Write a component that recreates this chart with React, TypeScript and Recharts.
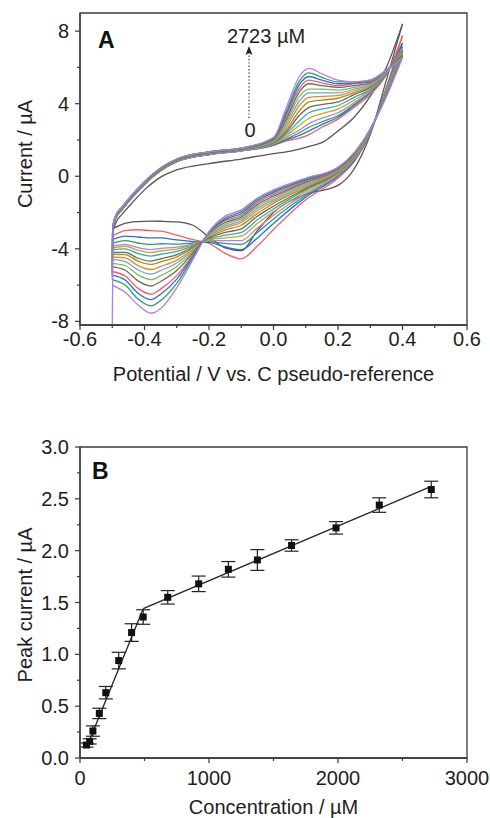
import React from "react";
import {
  LineChart,
  Line,
  XAxis,
  YAxis,
  ReferenceArea,
  ComposedChart,
  Scatter,
  ErrorBar,
  Label,
} from "recharts";

const FONT = "'Liberation Sans', Arial, Helvetica, sans-serif";
const INK = "#1e1e1e";
const AXIS = "#3a3a3a";

// ---- panel A: CV sweep, -0.5 V -> 0.4 V -> -0.5 V (V vs. C)
const potential = [
  -0.5, -0.497, -0.49, -0.47, -0.44, -0.4, -0.35, -0.3, -0.2, -0.1, 0, 0.04, 0.08, 0.11, 0.15, 0.2, 0.25, 0.3, 0.35, 0.4,
  0.35, 0.3, 0.25, 0.2, 0.1, 0, -0.05, -0.1, -0.15, -0.2, -0.25, -0.3, -0.35, -0.38, -0.42, -0.46, -0.5,
];
const TURN = 19; // index of 0.4 V

// current (uA) per concentration step, 0 .. 2723 uM
const cv0 = [-3.2, -3.0, -2.6, -2.1, -1.5, -0.75, -0.05, 0.35, 0.7, 0.95, 1.25, 1.35, 1.5, 1.65, 1.85, 2.5, 3.25, 4.4, 6.0, 8.4,
  5.3, 2.3, 0.4, -0.5, -1.0, -2.0, -3.0, -4.1, -3.95, -3.35, -2.7, -2.52, -2.48, -2.47, -2.5, -2.6, -2.9];
const cv1 = [-3.3, -2.8, -2.35, -1.85, -1.2, -0.45, 0.3, 0.8, 1.2, 1.4, 1.7, 1.95, 2.1, 2.3, 2.7, 3.15, 3.8, 4.5, 5.6, 7.75,
  4.9, 2.4, 0.8, -0.1, -1.3, -2.94, -3.85, -4.55, -4.25, -3.7, -3.5, -3.25, -3.02, -3.0, -2.95, -3.0, -3.3];
const cv2 = [-3.5, -2.8, -2.35, -1.85, -1.2, -0.45, 0.3, 0.8, 1.2, 1.4, 1.72, 2.0, 2.25, 2.5, 2.85, 3.25, 3.9, 4.6, 5.65, 7.35,
  4.85, 2.42, 0.85, 0.0, -1.15, -2.6, -3.4, -4.05, -3.9, -3.65, -3.6, -3.51, -3.4, -3.4, -3.35, -3.3, -3.5];
const cv3 = [-3.7, -2.8, -2.35, -1.85, -1.2, -0.45, 0.3, 0.8, 1.2, 1.4, 1.75, 2.05, 2.4, 2.7, 3.0, 3.35, 3.95, 4.65, 5.65, 7.15,
  4.8, 2.44, 0.9, 0.05, -1.05, -2.35, -3.1, -3.75, -3.7, -3.6, -3.68, -3.74, -3.72, -3.76, -3.68, -3.55, -3.7];
const cv4 = [-3.85, -2.8, -2.35, -1.85, -1.2, -0.45, 0.3, 0.8, 1.2, 1.4, 1.78, 2.15, 2.55, 2.9, 3.2, 3.5, 4.05, 4.7, 5.7, 7.05,
  4.75, 2.46, 0.95, 0.1, -0.95, -2.15, -2.85, -3.55, -3.55, -3.55, -3.75, -3.91, -3.98, -4.04, -3.94, -3.75, -3.85];
const cv5 = [-3.95, -2.75, -2.3, -1.8, -1.15, -0.4, 0.35, 0.85, 1.25, 1.45, 1.8, 2.25, 2.8, 3.2, 3.45, 3.7, 4.2, 4.75, 5.7, 7.0,
  4.7, 2.48, 1.0, 0.15, -0.85, -1.95, -2.6, -3.3, -3.4, -3.5, -3.79, -4.02, -4.12, -4.2, -4.08, -3.86, -3.95];
const cv6 = [-4.05, -2.75, -2.3, -1.8, -1.15, -0.4, 0.35, 0.85, 1.25, 1.45, 1.83, 2.35, 3.05, 3.5, 3.7, 3.9, 4.35, 4.8, 5.7, 6.95,
  4.65, 2.5, 1.03, 0.2, -0.75, -1.8, -2.4, -3.1, -3.25, -3.45, -3.84, -4.14, -4.3, -4.4, -4.26, -4.0, -4.05];
const cv7 = [-4.2, -2.75, -2.3, -1.8, -1.15, -0.4, 0.35, 0.85, 1.25, 1.45, 1.86, 2.45, 3.35, 3.8, 3.95, 4.1, 4.5, 4.9, 5.75, 6.9,
  4.6, 2.52, 1.06, 0.24, -0.68, -1.65, -2.2, -2.9, -3.1, -3.4, -3.9, -4.32, -4.55, -4.68, -4.52, -4.2, -4.2];
const cv8 = [-4.3, -2.75, -2.3, -1.8, -1.15, -0.4, 0.35, 0.85, 1.25, 1.45, 1.89, 2.55, 3.6, 4.1, 4.2, 4.3, 4.6, 4.95, 5.75, 6.85,
  4.58, 2.53, 1.09, 0.27, -0.6, -1.5, -2.05, -2.7, -2.95, -3.35, -3.95, -4.44, -4.72, -4.86, -4.68, -4.32, -4.3];
const cv9 = [-4.45, -2.7, -2.25, -1.75, -1.1, -0.35, 0.4, 0.9, 1.3, 1.5, 1.92, 2.7, 3.9, 4.35, 4.4, 4.45, 4.7, 5.0, 5.75, 6.8,
  4.55, 2.54, 1.12, 0.3, -0.52, -1.4, -1.9, -2.55, -2.85, -3.3, -4.02, -4.62, -4.97, -5.14, -4.93, -4.5, -4.45];
const cv10 = [-4.6, -2.7, -2.25, -1.75, -1.1, -0.35, 0.4, 0.9, 1.3, 1.5, 1.95, 2.85, 4.15, 4.6, 4.6, 4.6, 4.8, 5.05, 5.75, 6.75,
  4.53, 2.55, 1.15, 0.33, -0.45, -1.3, -1.78, -2.45, -2.75, -3.25, -4.08, -4.78, -5.2, -5.4, -5.17, -4.7, -4.6];
const cv11 = [-4.8, -2.7, -2.25, -1.75, -1.1, -0.35, 0.4, 0.9, 1.3, 1.5, 1.98, 3.0, 4.4, 4.8, 4.8, 4.75, 4.9, 5.1, 5.8, 6.7,
  4.5, 2.56, 1.17, 0.36, -0.38, -1.2, -1.66, -2.35, -2.65, -3.2, -4.15, -4.97, -5.48, -5.7, -5.44, -4.92, -4.8];
const cv12 = [-5.0, -2.7, -2.25, -1.75, -1.1, -0.35, 0.4, 0.9, 1.3, 1.5, 2.01, 3.15, 4.65, 5.1, 5.0, 4.9, 5.0, 5.15, 5.8, 6.7,
  4.48, 2.57, 1.2, 0.39, -0.32, -1.1, -1.55, -2.25, -2.55, -3.15, -4.23, -5.2, -5.8, -6.05, -5.77, -5.18, -5.0];
const cv13 = [-5.25, -2.65, -2.2, -1.7, -1.05, -0.3, 0.45, 0.95, 1.35, 1.55, 2.04, 3.3, 4.85, 5.3, 5.15, 5.0, 5.1, 5.2, 5.8, 6.65,
  4.46, 2.58, 1.22, 0.42, -0.26, -1.0, -1.45, -2.15, -2.45, -3.12, -4.34, -5.48, -6.22, -6.5, -6.18, -5.5, -5.25];
const cv14 = [-5.45, -2.65, -2.2, -1.7, -1.05, -0.3, 0.45, 0.95, 1.35, 1.55, 2.07, 3.45, 5.05, 5.5, 5.3, 5.1, 5.15, 5.25, 5.85, 6.6,
  4.44, 2.59, 1.25, 0.45, -0.2, -0.9, -1.35, -2.05, -2.38, -3.1, -4.41, -5.67, -6.5, -6.8, -6.45, -5.72, -5.45];
const cv15 = [-5.7, -2.65, -2.2, -1.7, -1.05, -0.3, 0.45, 0.95, 1.35, 1.55, 2.1, 3.6, 5.25, 5.7, 5.45, 5.2, 5.2, 5.3, 5.85, 6.6,
  4.42, 2.6, 1.27, 0.48, -0.15, -0.82, -1.25, -1.95, -2.3, -3.07, -4.5, -5.9, -6.85, -7.15, -6.77, -6.0, -5.7];
const cv16 = [-8.2, -2.65, -2.2, -1.7, -1.05, -0.3, 0.45, 0.95, 1.35, 1.55, 2.15, 3.8, 5.5, 5.95, 5.65, 5.3, 5.2, 5.3, 5.85, 6.55,
  4.4, 2.6, 1.3, 0.5, -0.1, -0.75, -1.2, -1.85, -2.2, -3.05, -4.6, -6.15, -7.3, -7.55, -7.1, -6.4, -6.0];

const sweeps = [cv0, cv1, cv2, cv3, cv4, cv5, cv6, cv7, cv8, cv9, cv10, cv11, cv12, cv13, cv14, cv15, cv16];
const sweepColors = [
  "#555555", "#ff5a5a", "#2a6fd6", "#2e9e62", "#b57ee6", "#d6a312", "#1bb3cf", "#8b5a4c", "#8c9b2c",
  "#ff8020", "#6aa6e2", "#7dc142", "#6a6a6a", "#ff5a5a", "#2a6fd6", "#2e9e62", "#b57ee6",
];

const potTicks = [-0.6, -0.5, -0.4, -0.3, -0.2, -0.1, 0, 0.1, 0.2, 0.3, 0.4, 0.5, 0.6];
const curTicks = [-8, -6, -4, -2, 0, 2, 4, 6, 8];

// ---- panel B: calibration
const concentration = [50, 75, 100, 150, 200, 300, 400, 490, 680, 920, 1150, 1375, 1640, 1985, 2320, 2723];
const peakCurrent = [0.125, 0.16, 0.26, 0.43, 0.63, 0.94, 1.21, 1.36, 1.55, 1.68, 1.82, 1.91, 2.05, 2.22, 2.44, 2.59];
const peakError = [0.02, 0.025, 0.05, 0.05, 0.06, 0.08, 0.085, 0.07, 0.065, 0.075, 0.075, 0.1, 0.055, 0.06, 0.07, 0.08];
const lowFitConc = [50, 490];
const lowFitCurrent = [0.1, 1.44];
const highFitConc = [490, 2723];
const highFitCurrent = [1.44, 2.62];

const concTicks = [0, 500, 1000, 1500, 2000, 2500, 3000];
const peakTicks = [0, 0.25, 0.5, 0.75, 1, 1.25, 1.5, 1.75, 2, 2.25, 2.5, 2.75, 3];

const cvSeries = sweeps.map((arr, k) => ({
  color: sweepColors[k],
  forward: potential.slice(0, TURN + 1).map((v, j) => ({ v, i: arr[j] })),
  reverse: potential.slice(TURN).map((v, j) => ({ v, i: arr[TURN + j] })),
}));

const calPoints = concentration.map((x, j) => ({ x, y: peakCurrent[j], err: peakError[j] }));
const lowFit = lowFitConc.map((x, j) => ({ x, y: lowFitCurrent[j] }));
const highFit = highFitConc.map((x, j) => ({ x, y: highFitCurrent[j] }));

const txt = { fontFamily: FONT, fill: INK, fontSize: 20 } as const;

function LeftTick(props: any) {
  const { x, y, payload, isMajor, fmt } = props;
  const v = payload.value;
  const major = isMajor(v);
  return (
    <g>
      <line x1={x} x2={x - (major ? 5 : 3)} y1={y} y2={y} stroke={AXIS} strokeWidth={1.2} />
      {major && (
        <text x={x - 11} y={y + 7} textAnchor="end" {...txt}>
          {fmt(v)}
        </text>
      )}
    </g>
  );
}

function BottomTick(props: any) {
  const { x, y, payload, isMajor, fmt, gap } = props;
  const v = payload.value;
  const major = isMajor(v);
  return (
    <g>
      <line x1={x} x2={x} y1={y} y2={y + (major ? 5 : 3)} stroke={AXIS} strokeWidth={1.2} />
      {major && (
        <text x={x} y={y + gap} textAnchor="middle" {...txt}>
          {fmt(v)}
        </text>
      )}
    </g>
  );
}

function Square(props: any) {
  const { cx, cy } = props;
  return <rect x={cx - 3.5} y={cy - 3.5} width={7} height={7} fill="#111" />;
}

function PanelA() {
  return (
    <LineChart width={490} height={400} margin={{ top: 13, right: 23, left: 0, bottom: 0 }} style={{ fontFamily: FONT }}>
      <XAxis
        type="number"
        dataKey="v"
        domain={[-0.6, 0.6]}
        allowDataOverflow
        ticks={potTicks}
        interval={0}
        height={75}
        tickSize={0}
        tickMargin={0}
        tickLine={false}
        axisLine={{ stroke: AXIS, strokeWidth: 1.3 }}
        tick={(p: any) => (
          <BottomTick {...p} gap={21} isMajor={(v: number) => Math.round(v * 10) % 2 === 0} fmt={(v: number) => v.toFixed(1)} />
        )}
      >
        <Label
          content={() => (
            <text x={273.5} y={381} textAnchor="middle" {...txt}>
              Potential / V vs. C pseudo-reference
            </text>
          )}
        />
      </XAxis>
      <YAxis
        type="number"
        domain={[-8.2, 9]}
        allowDataOverflow
        ticks={curTicks}
        interval={0}
        width={80}
        tickSize={0}
        tickMargin={0}
        tickLine={false}
        axisLine={{ stroke: AXIS, strokeWidth: 1.3 }}
        tick={(p: any) => <LeftTick {...p} isMajor={(v: number) => v % 4 === 0} fmt={(v: number) => String(v)} />}
      >
        <Label
          content={() => (
            <text x={32} y={154} textAnchor="middle" transform="rotate(-90 32 154)" {...txt}>
              Current / µA
            </text>
          )}
        />
      </YAxis>
      <ReferenceArea x1={-0.6} x2={0.6} y1={-8.2} y2={9} fill="none" stroke={AXIS} strokeWidth={1.3} />
      {cvSeries.flatMap((s, k) => [
        <Line
          key={`f${k}`}
          data={s.forward}
          dataKey="i"
          type="monotone"
          stroke={s.color}
          strokeWidth={1.3}
          dot={false}
          activeDot={false}
          isAnimationActive={false}
        />,
        <Line
          key={`r${k}`}
          data={s.reverse}
          dataKey="i"
          type="monotone"
          stroke={s.color}
          strokeWidth={1.3}
          dot={false}
          activeDot={false}
          isAnimationActive={false}
        />,
      ])}
    </LineChart>
  );
}

function PanelB() {
  return (
    <ComposedChart width={490} height={418} margin={{ top: 47, right: 23, left: 0, bottom: 0 }} style={{ fontFamily: FONT }}>
      <XAxis
        type="number"
        dataKey="x"
        domain={[0, 3000]}
        allowDataOverflow
        ticks={concTicks}
        interval={0}
        height={60}
        tickSize={0}
        tickMargin={0}
        tickLine={false}
        axisLine={{ stroke: AXIS, strokeWidth: 1.3 }}
        tick={(p: any) => <BottomTick {...p} gap={27} isMajor={(v: number) => v % 1000 === 0} fmt={(v: number) => String(v)} />}
      >
        <Label
          content={() => (
            <text x={273.5} y={414} textAnchor="middle" {...txt}>
              Concentration / µM
            </text>
          )}
        />
      </XAxis>
      <YAxis
        type="number"
        domain={[0, 3]}
        allowDataOverflow
        ticks={peakTicks}
        interval={0}
        width={80}
        tickSize={0}
        tickMargin={0}
        tickLine={false}
        axisLine={{ stroke: AXIS, strokeWidth: 1.3 }}
        tick={(p: any) => (
          <LeftTick {...p} isMajor={(v: number) => Math.round(v * 4) % 2 === 0} fmt={(v: number) => v.toFixed(1)} />
        )}
      >
        <Label
          content={() => (
            <text x={32} y={205} textAnchor="middle" transform="rotate(-90 32 205)" {...txt}>
              Peak current / µA
            </text>
          )}
        />
      </YAxis>
      <ReferenceArea x1={0} x2={3000} y1={0} y2={3} fill="none" stroke={AXIS} strokeWidth={1.3} />
      <Line data={lowFit} dataKey="y" type="linear" stroke="#222" strokeWidth={1.3} dot={false} activeDot={false} isAnimationActive={false} />
      <Line data={highFit} dataKey="y" type="linear" stroke="#222" strokeWidth={1.3} dot={false} activeDot={false} isAnimationActive={false} />
      <Scatter data={calPoints} dataKey="y" shape={<Square />} isAnimationActive={false}>
        <ErrorBar dataKey="err" direction="y" width={7} stroke="#222" strokeWidth={1.2} />
      </Scatter>
    </ComposedChart>
  );
}

export default function App() {
  return (
    <div style={{ position: "absolute", left: 0, top: 0, width: 490, height: 818, background: "#fff", fontFamily: FONT }}>
      <div style={{ position: "absolute", left: 0, top: 0 }}>
        <PanelA />
      </div>
      <div style={{ position: "absolute", left: 0, top: 400 }}>
        <PanelB />
      </div>
      <svg width={490} height={818} style={{ position: "absolute", left: 0, top: 0, pointerEvents: "none" }}>
        <text x={98} y={48} fontSize={23} fontWeight="bold" fontFamily={FONT} fill="#111">
          A
        </text>
        <text x={92} y={479} fontSize={23} fontWeight="bold" fontFamily={FONT} fill="#111">
          B
        </text>
        <text x={266} y={43} textAnchor="middle" {...txt}>
          2723 µM
        </text>
        <text x={250} y={137} textAnchor="middle" {...txt}>
          0
        </text>
        <line x1={249} y1={118} x2={249} y2={53} stroke="#222" strokeWidth={1.2} strokeDasharray="1.2 2.2" />
        <path d="M249 46 L245.5 55 L249 53 L252.5 55 Z" fill="#222" />
      </svg>
    </div>
  );
}
